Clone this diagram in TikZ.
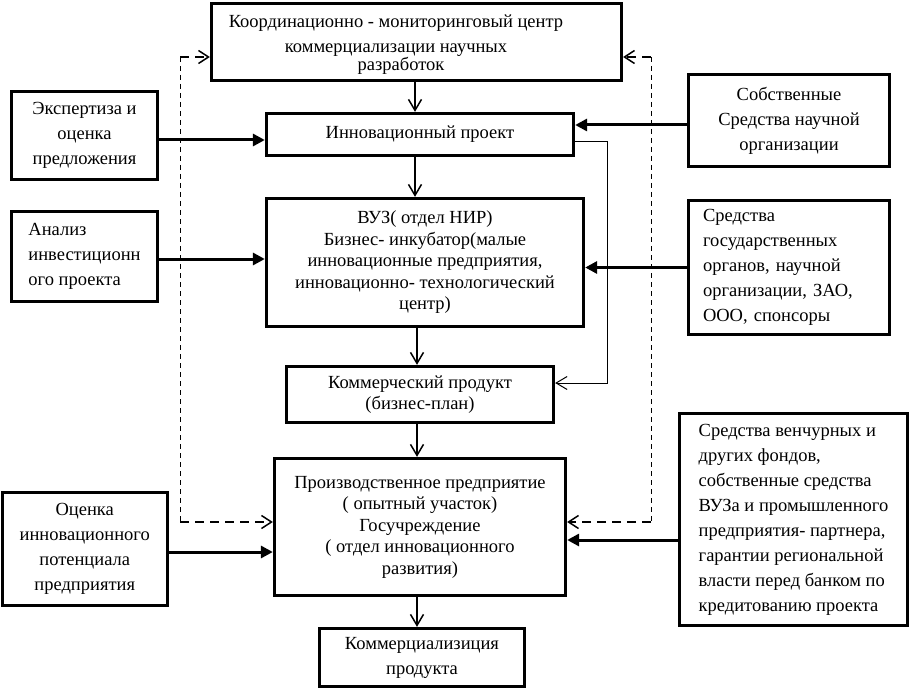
\documentclass[tikz,border=0pt]{standalone}
\usepackage{fontspec}
\setmainfont{Liberation Serif}
\usetikzlibrary{arrows.meta}
\newcommand\fsA{\fontsize{18.5}{25}\selectfont}
\newcommand\fsB{\fontsize{18.5}{21.5}\selectfont}
\begin{document}
\begin{tikzpicture}[x=1pt,y=-1pt,
  box/.style={draw, line width=3.3pt, inner sep=0pt, align=center, font=\fsA},
  tarr/.style={line width=1.5pt, -{Straight Barb[length=11pt,width=13pt]}},
  tline/.style={line width=1pt, -{Straight Barb[length=11pt,width=13pt]}},
  karr/.style={line width=3pt, -{Triangle[length=12pt,width=12pt]}},
  dv/.style={line width=1pt, dash pattern=on 5pt off 4pt},
  dh/.style={line width=1.5pt, dash pattern=on 9pt off 6pt, -{Straight Barb[length=10pt,width=13pt]}}]
\useasboundingbox (0,0) rectangle (911,690);

% central column
\node[box, minimum width=410pt, minimum height=77pt] (kmc) at (416.5,42) {};
\node[font=\fsA, align=center, inner sep=0pt] (kmct) at (396,45) {Координационно - мониторинговый центр\\[0pt] коммерциализации научных\hspace*{10pt}\\[-7pt] \hspace*{10pt}разработок};
\node[box, minimum width=307pt, minimum height=42pt] (ip) at (420,134.5) {Инновационный проект};
\node[box, font=\fsB, minimum width=317pt, minimum height=128pt] (vuz) at (425,262.5) {ВУЗ( отдел НИР)\\ Бизнес- инкубатор(малые\\ инновационные предприятия,\\ инновационно- технологический\\ центр)};
\node[box, font=\fsB, minimum width=267pt, minimum height=56pt] (kp) at (420,394.5) {Коммерческий продукт\\ (бизнес-план)};
\node[box, font=\fsB, minimum width=291pt, minimum height=137pt] (pp) at (420,527) {Производственное предприятие\\ ( опытный участок)\\ Госучреждение\\ ( отдел инновационного\\ развития)};
\node[box, minimum width=205pt, minimum height=58pt] (kom) at (422,657.5) {Коммерциализиция\\ продукта};

% left column
\node[box, minimum width=146pt, minimum height=88pt] (exp) at (84.5,135.5) {Экспертиза и\\ оценка\\ предложения};
\node[box, align=left, minimum width=146pt, minimum height=90pt] (an) at (84.5,256.5) {Анализ\\ инвестиционн\\ ого проекта};
\node[box, minimum width=165pt, minimum height=113pt] (oc) at (84.75,549) {Оценка\\ инновационного\\ потенциала\\ предприятия};

% right column
\node[box, minimum width=201pt, minimum height=92pt] (sob) at (789,120.5) {Собственные\\ Средства научной\\ организации};
\node[box, align=left, text width=172pt, minimum width=201pt, minimum height=134pt] (gos) at (789,267.5) {Средства\\ государственных\\ органов, научной\\ организации, ЗАО,\\ ООО, спонсоры};
\node[box, align=left, minimum width=228pt, minimum height=212pt] (ven) at (793.5,519.5) {Средства венчурных и\\ других фондов,\\ собственные средства\\ ВУЗа и промышленного\\ предприятия- партнера,\\ гарантии региональной\\ власти перед банком по\\ кредитованию проекта};

% vertical flow
\draw[tarr] ([xshift=-5pt]ip.north |- kmc.south) -- ([xshift=-5pt]ip.north);
\draw[tarr] ([xshift=-5pt]ip.south) -- ([xshift=-5pt]ip.south |- vuz.north);
\draw[tarr] ([xshift=-3pt]kp.north |- vuz.south) -- ([xshift=-3pt]kp.north);
\draw[tarr] ([xshift=-3pt]kp.south) -- ([xshift=-3pt]kp.south |- pp.north);
\draw[tarr] ([xshift=-3pt]pp.south) -- ([xshift=-3pt]pp.south |- kom.north);

% bypass line
\coordinate (c1) at (607,142);
\coordinate (c2) at (607,383);
\draw[tline] (c1 -| ip.east) -- (c1) -- (c2) -- (c2 -| kp.east);

% thick inputs
\draw[karr] ([yshift=-4.5pt]exp.east) -- ([yshift=-4.5pt]exp.east -| ip.west);
\draw[karr] ([yshift=-2.5pt]an.east) -- ([yshift=-2.5pt]an.east -| vuz.west);
\draw[karr] ([yshift=-3pt]oc.east) -- ([yshift=-3pt]oc.east -| pp.west);
\draw[karr] ([yshift=-4.5pt]sob.west) -- ([yshift=-4.5pt]sob.west -| ip.east);
\draw[karr] (gos.west) -- (gos.west -| vuz.east);
\draw[karr] ([yshift=-20.5pt]ven.west) -- ([yshift=-20.5pt]ven.west -| pp.east);

% dashed feedback
\coordinate (dl1) at (180,57);
\coordinate (dl2) at (180,522);
\coordinate (dr1) at (651,57);
\coordinate (dr2) at (651,522);
\draw[dv] (dl1) -- (dl2);
\draw[dv] (dr1) -- (dr2);
\draw[dh] (dl1) -- (dl1 -| kmc.west);
\draw[dh] (dl2) -- (dl2 -| pp.west);
\draw[dh] (dr1) -- (dr1 -| kmc.east);
\draw[dh] (dr2) -- (dr2 -| pp.east);
\end{tikzpicture}
\end{document}
